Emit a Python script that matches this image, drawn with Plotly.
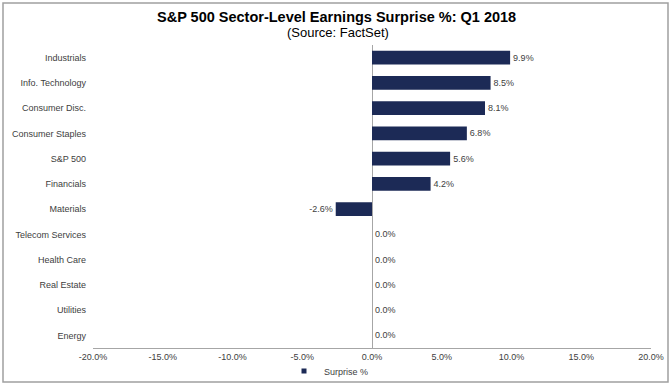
import plotly.graph_objects as go

categories = ["Industrials", "Info. Technology", "Consumer Disc.", "Consumer Staples",
              "S&P 500", "Financials", "Materials", "Telecom Services",
              "Health Care", "Real Estate", "Utilities", "Energy"]
surprise = [9.9, 8.5, 8.1, 6.8, 5.6, 4.2, -2.6, 0.0, 0.0, 0.0, 0.0, 0.0]
x_ticks = [-20, -15, -10, -5, 0, 5, 10, 15, 20]
x_tick_labels = [f"{v:.1f}%" for v in x_ticks]
series_name = "Surprise %"
bar_color = "#1c2a56"

W, H = 672, 386
ml, mr, mt, mb = 93, 21, 45, 38
pw, ph = W - ml - mr, H - mt - mb

def px_x(p):
    return (p - ml) / pw

def px_y(p):
    return (H - mb - p) / ph

font = "Liberation Sans, Arial, sans-serif"

fig = go.Figure()
fig.add_trace(go.Bar(
    x=surprise, y=categories, orientation="h", name=series_name,
    marker=dict(color=bar_color, line=dict(width=0)),
    width=0.55, showlegend=False,
    text=[f"{v:.1f}%" for v in surprise], textposition="outside",
    textfont=dict(size=9, color="#404040", family=font),
    cliponaxis=False,
))
# legend entry with a small square symbol, as in the reference
fig.add_trace(go.Scatter(
    x=[None], y=[None], mode="markers", name=series_name,
    marker=dict(symbol="square", size=5, color=bar_color), showlegend=True,
))

fig.update_layout(
    width=W, height=H,
    margin=dict(l=ml, r=mr, t=mt, b=mb, autoexpand=False),
    paper_bgcolor="white", plot_bgcolor="white",
    font=dict(family=font, size=9, color="#404040"),
    showlegend=True,
    legend=dict(orientation="h", x=px_x(284), y=px_y(371), xanchor="left", yanchor="middle",
                font=dict(size=9, color="#404040"), itemwidth=30,
                bgcolor="rgba(0,0,0,0)"),
    xaxis=dict(range=[-20, 20], tickvals=x_ticks, ticktext=x_tick_labels,
               showgrid=False, zeroline=True, zerolinecolor="#a6a6a6", zerolinewidth=1,
               showline=True, linecolor="#a6a6a6", linewidth=1, ticks="",
               automargin=False, tickfont=dict(size=9, color="#404040")),
    yaxis=dict(categoryorder="array", categoryarray=categories, autorange="reversed",
               showgrid=False, zeroline=False, showline=False, ticks="",
               automargin=False, ticklabelstandoff=6, tickfont=dict(size=9, color="#404040")),
    shapes=[dict(type="rect", xref="paper", yref="paper",
                 x0=px_x(3), x1=px_x(668), y0=px_y(382), y1=px_y(3),
                 line=dict(color="#a0a0a0", width=1.5), fillcolor="rgba(0,0,0,0)", layer="below")],
    annotations=[
        dict(text="<b>S&P 500 Sector-Level Earnings Surprise %: Q1 2018</b>", xref="paper", yref="paper",
             x=px_x(336), y=px_y(17), xanchor="center", yanchor="middle", showarrow=False,
             font=dict(size=14.5, color="#000000", family=font)),
        dict(text="(Source: FactSet)", xref="paper", yref="paper",
             x=px_x(338), y=px_y(33), xanchor="center", yanchor="middle", showarrow=False,
             font=dict(size=13, color="#000000", family=font)),
    ],
)

fig.write_html("out.html", config={"displayModeBar": False},
               post_script="document.body.style.margin='0px';")
